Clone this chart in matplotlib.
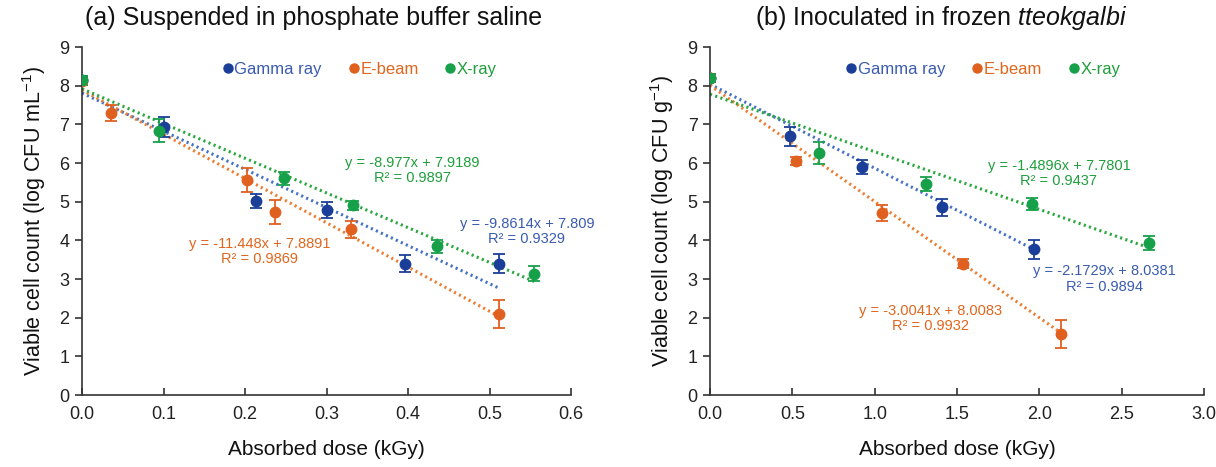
import matplotlib
matplotlib.use("Agg")
import matplotlib.pyplot as plt
from matplotlib import font_manager
from matplotlib.lines import Line2D
import numpy as np

names = {f.name for f in font_manager.fontManager.ttflist}
NARROW = "Liberation Sans Narrow" if "Liberation Sans Narrow" in names else "Liberation Sans"
REG = "Liberation Sans"

plt.rcParams['font.family'] = [REG, 'DejaVu Sans']
plt.rcParams['mathtext.fontset'] = 'custom'
plt.rcParams['mathtext.rm'] = REG
plt.rcParams['mathtext.it'] = REG + ':italic'

# ---------------- data ----------------
series = ["Gamma ray", "E-beam", "X-ray"]

# (a) phosphate buffer saline
a_gamma_x = [0.0, 0.100, 0.214, 0.300, 0.396, 0.512]
a_gamma_y = [8.14, 6.92, 5.02, 4.78, 3.40, 3.40]
a_gamma_e = [0.10, 0.26, 0.18, 0.20, 0.23, 0.24]
a_ebeam_x = [0.0, 0.035, 0.203, 0.237, 0.330, 0.512]
a_ebeam_y = [8.13, 7.29, 5.56, 4.74, 4.29, 2.09]
a_ebeam_e = [0.10, 0.20, 0.31, 0.31, 0.22, 0.37]
a_xray_x = [0.0, 0.094, 0.248, 0.332, 0.435, 0.555]
a_xray_y = [8.14, 6.84, 5.60, 4.91, 3.85, 3.14]
a_xray_e = [0.12, 0.29, 0.18, 0.12, 0.17, 0.20]
a_slope = [-9.8614, -11.448, -8.977]
a_icept = [7.809, 7.8891, 7.9189]
a_r2 = ["0.9329", "0.9869", "0.9897"]
a_eq = ["y = -9.8614x + 7.809", "y = -11.448x + 7.8891", "y = -8.977x + 7.9189"]

# (b) frozen tteokgalbi
b_gamma_x = [0.0, 0.486, 0.925, 1.411, 1.969]
b_gamma_y = [8.20, 6.69, 5.90, 4.85, 3.77]
b_gamma_e = [0.10, 0.24, 0.18, 0.21, 0.25]
b_ebeam_x = [0.0, 0.522, 1.047, 1.535, 2.131]
b_ebeam_y = [8.20, 6.05, 4.71, 3.40, 1.58]
b_ebeam_e = [0.10, 0.10, 0.20, 0.12, 0.37]
b_xray_x = [0.0, 0.664, 1.311, 1.953, 2.668]
b_xray_y = [8.20, 6.26, 5.45, 4.94, 3.92]
b_xray_e = [0.10, 0.29, 0.18, 0.15, 0.18]
b_slope = [-2.1729, -3.0041, -1.4896]
b_icept = [8.0381, 8.0083, 7.7801]
b_r2 = ["0.9894", "0.9932", "0.9437"]
b_eq = ["y = -2.1729x + 8.0381", "y = -3.0041x + 8.0083", "y = -1.4896x + 7.7801"]

a_xticks = [0.0, 0.1, 0.2, 0.3, 0.4, 0.5, 0.6]
b_xticks = [0.0, 0.5, 1.0, 1.5, 2.0, 2.5, 3.0]
yticks = list(range(0, 10))

# ---------------- styles ----------------
mcol = ["#1b3f98", "#e0601f", "#17a04a"]
lcol = ["#4472c4", "#ed7d31", "#2aa83f"]
tcol = ["#3a5bb0", "#e0661e", "#1f9e3c"]

fig = plt.figure(figsize=(12.16, 4.67), dpi=100)
axA = fig.add_axes([82/1216, 72/467, 489/1216, 348/467])
axB = fig.add_axes([710/1216, 72/467, 494/1216, 348/467])


def draw(ax, xs, ys, es, slopes, icepts, eqs, r2s, eqpos, legx):
    order = [0, 1, 2]
    for i in order:
        x = np.array(xs[i])
        xl = np.array([0.0, x.max()])
        ax.plot(xl, icepts[i] + slopes[i] * xl, color=lcol[i], lw=2.2,
                linestyle=(0, (0.7, 1.1)), zorder=2)
    for i in order:
        ax.errorbar(xs[i], ys[i], yerr=es[i], fmt='o', color=mcol[i],
                    ms=7.5, capsize=4.5, elinewidth=1.3, capthick=1.3, zorder=3)
    for i in order:
        ax.text(eqpos[i][0], eqpos[i][1], eqs[i] + "\nR² = " + r2s[i],
                color=tcol[i], ha='center', va='center', fontsize=10.5,
                family=NARROW, linespacing=1.1, zorder=4)
    ax.set_ylim(0, 9)
    ax.set_yticks(yticks)
    for s in ['top', 'right']:
        ax.spines[s].set_visible(False)
    for s in ['left', 'bottom']:
        ax.spines[s].set_color('#333333')
        ax.spines[s].set_linewidth(1.2)
    ax.tick_params(axis='x', direction='in', length=5, width=1.2, color='#333333', pad=8)
    ax.tick_params(axis='y', direction='out', length=5, width=1.2, color='#333333', pad=4)
    handles = [Line2D([], [], marker='o', ls='none', color=mcol[i], ms=6.5) for i in range(3)]
    leg = ax.legend(handles, series, loc='center', ncol=3, frameon=False,
                    handlelength=0.4, handletextpad=0.2, columnspacing=1.7,
                    prop={'family': NARROW, 'size': 12},
                    bbox_to_anchor=(legx, 0.935))
    for i, t in enumerate(leg.get_texts()):
        t.set_color(tcol[i])


draw(axA, [a_gamma_x, a_ebeam_x, a_xray_x], [a_gamma_y, a_ebeam_y, a_xray_y],
     [a_gamma_e, a_ebeam_e, a_xray_e], a_slope, a_icept, a_eq, a_r2,
     [(0.546, 4.22), (0.218, 3.70), (0.405, 5.81)], 0.57)
axA.set_xlim(0, 0.6)
axA.set_xticks(a_xticks)
axA.set_xticklabels([f"{v:.1f}" for v in a_xticks])

draw(axB, [b_gamma_x, b_ebeam_x, b_xray_x], [b_gamma_y, b_ebeam_y, b_xray_y],
     [b_gamma_e, b_ebeam_e, b_xray_e], b_slope, b_icept, b_eq, b_r2,
     [(2.398, 3.00), (1.342, 1.99), (2.119, 5.74)], 0.555)
axB.set_xlim(0, 3.0)
axB.set_xticks(b_xticks)
axB.set_xticklabels([f"{v:.1f}" for v in b_xticks])

for ax in (axA, axB):
    for lab in ax.get_xticklabels() + ax.get_yticklabels():
        lab.set_family(NARROW)
        lab.set_fontsize(13)
        lab.set_color('#222222')
    ax.set_xlabel("Absorbed dose (kGy)", fontsize=15, labelpad=12, color='#111111')

axA.set_ylabel(r"Viable cell count (log CFU mL$^{-1}$)", fontsize=15.5, labelpad=8, color='#111111')
axB.set_ylabel(r"Viable cell count (log CFU g$^{-1}$)", fontsize=15.5, labelpad=8, color='#111111')

axA.text(0.474, 1.083, "(a) Suspended in phosphate buffer saline", transform=axA.transAxes,
         ha='center', va='center', fontsize=18, family=NARROW, color='#111111')
axB.text(0.468, 1.083, r"(b) Inoculated in frozen $\it{tteokgalbi}$", transform=axB.transAxes,
         ha='center', va='center', fontsize=18, family=NARROW, color='#111111')

fig.savefig("out.png", dpi=100)
